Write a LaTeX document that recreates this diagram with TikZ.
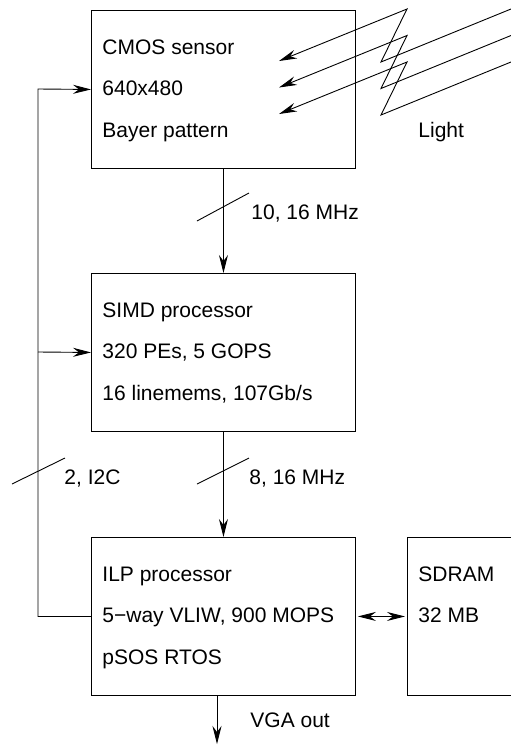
\documentclass[tikz,border=0pt]{standalone}
\usepackage{fontspec}
\setmainfont{Liberation Sans}
\usetikzlibrary{arrows.meta}
\begin{document}
\begin{tikzpicture}[x=1pt,y=-1pt,line width=0.9pt,
  blk/.style={draw,minimum width=264pt,minimum height=158pt,anchor=north west,inner sep=0pt},
  txt/.style={anchor=base west,inner sep=0pt,font=\fontsize{21}{24}\selectfont},
  tip/.tip={Stealth[length=18pt,width=9pt,inset=6pt]},
  arr/.style={-tip},
  dbl/.style={tip-tip}]
\useasboundingbox (0,0) rectangle (511,745);

% boxes
\node[blk] (cmos) at (91,10) {};
\node[blk] (simd) at (91,273) {};
\node[blk] (ilp) at (91,537) {};
\node[minimum width=104pt,minimum height=158pt,anchor=north west,inner sep=0pt] (sdram) at (407,537) {};
\draw (sdram.north east) -- (sdram.north west) -- (sdram.south west) -- (sdram.south east);

% box texts
\node[txt] (c1) at (102,54) {CMOS sensor};
\node[txt] (c2) at (102,95) {640x480};
\node[txt] (c3) at (102,137) {Bayer pattern};
\node[txt] (s1) at (102,317) {SIMD processor};
\node[txt] (s2) at (102,358) {320 PEs, 5 GOPS};
\node[txt] (s3) at (102,400) {16 linemems, 107Gb/s};
\node[txt] (i1) at (102,581) {ILP processor};
\node[txt] (i2) at (102,622) {5−way VLIW, 900 MOPS};
\node[txt] (i3) at (102,664) {pSOS RTOS};
\node[txt] (d1) at (418,581) {SDRAM};
\node[txt] (d2) at (418,622) {32 MB};

% labels
\node[txt] (l1) at (251,219) {10, 16 MHz};
\node[txt] (l2) at (249,484) {8, 16 MHz};
\node[txt] (l3) at (64,484) {2, I2C};
\node[txt] (l4) at (250,727) {VGA out};
\node[txt] (l5) at (418,137) {Light};

% main data path
\draw[arr] (cmos.south) -- (simd.north);
\draw[arr] (simd.south) -- (ilp.north);
\coordinate (vga) at (217,744);
\draw[arr] (ilp.south -| vga) -- (vga);
\draw[dbl] ([xshift=2pt]ilp.east) -- ([xshift=-2pt]sdram.west);

% feedback (I2C)
\coordinate (fbtop) at (38,89);
\coordinate (fbmid) at (38,352);
\draw[arr] (ilp.west) -| (fbtop) -- (cmos.west);
\draw[arr] (fbmid) -- (simd.west);

% bus slashes
\coordinate (sa1) at (197,221); \coordinate (sa2) at (249,193);
\coordinate (sb1) at (197,484); \coordinate (sb2) at (249,458);
\coordinate (sc1) at (12,484);  \coordinate (sc2) at (65,458);
\draw (sa1) -- (sa2);
\draw (sb1) -- (sb2);
\draw (sc1) -- (sc2);

% light rays
\foreach \d in {0,26.5,53} {
  \coordinate (re) at (511,9+\d);
  \coordinate (rb) at (381,62+\d);
  \coordinate (ra) at (407,9+\d);
  \coordinate (rt) at (279,61+\d);
  \draw[arr,line join=miter] (re) -- (rb) -- (ra) -- (rt);
}
\end{tikzpicture}
\end{document}
